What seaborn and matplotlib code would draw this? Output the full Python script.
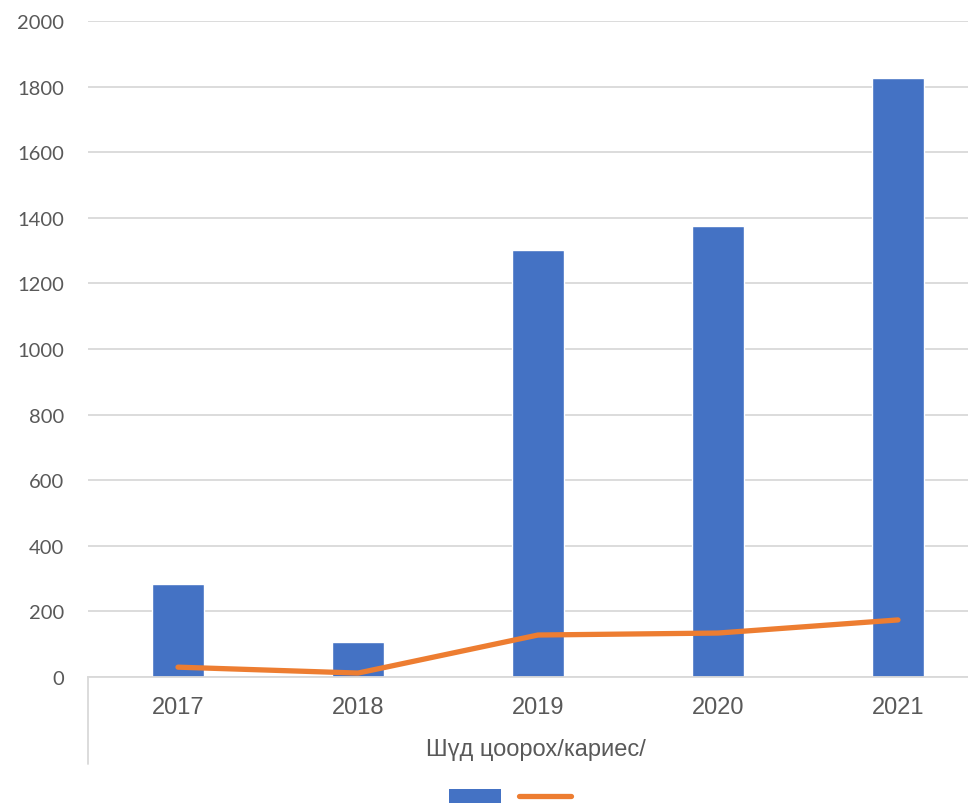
import numpy as np
import matplotlib
matplotlib.use("Agg")
import matplotlib.pyplot as plt
import seaborn as sns
from matplotlib.patches import Patch
from matplotlib.lines import Line2D

# values
years = ["2017", "2018", "2019", "2020", "2021"]
bar_values = [283, 106, 1301, 1375, 1826]
line_values = [30, 12, 128, 134, 174]
group_label = "Шүд цоорох/кариес/"
y_ticks = list(range(0, 2001, 200))

sns.set_theme(style="white")
plt.rcParams["font.family"] = ["Liberation Sans", "DejaVu Sans"]

text_color = "#595959"
bar_color = "#4472C4"
line_color = "#ED7D31"
grid_color = "#D9D9D9"

fig = plt.figure(figsize=(9.68, 8.04), dpi=100)
ax = fig.add_axes([88 / 968, 126 / 804, 900 / 968, 656 / 804])

sns.barplot(x=years, y=bar_values, color=bar_color, width=0.29,
            saturation=1, ax=ax, zorder=2)
sns.lineplot(x=np.arange(len(years)), y=line_values, color=line_color,
             linewidth=3.8, ax=ax, zorder=3, solid_capstyle="round")

ax.set_xlim(-0.5, 4.5)
ax.set_ylim(0, 2000)
ax.set_yticks(y_ticks)
ax.set_yticklabels([str(v) for v in y_ticks], family=["Lato", "DejaVu Sans"],
                   fontsize=14.5, color=text_color)
ax.set_xticks(range(len(years)))
ax.set_xticklabels(years, fontsize=17, color=text_color)
ax.tick_params(axis="y", length=0, pad=17)
ax.tick_params(axis="x", length=0, pad=14)
ax.yaxis.grid(True, color=grid_color, linewidth=1.3, zorder=0)
ax.set_axisbelow(True)
ax.set_xlabel("")
ax.set_ylabel("")

for side in ["top", "right", "left"]:
    ax.spines[side].set_visible(False)
ax.spines["bottom"].set_color(grid_color)
ax.spines["bottom"].set_linewidth(1.3)

# category group separator under the axis
ax.plot([0, 0], [0, -(765 - 678) / 656], transform=ax.transAxes,
        color=grid_color, linewidth=1.3, clip_on=False)
fig.text(536 / 968, 1 - 750 / 804, group_label, ha="center", va="center",
         fontsize=17, color=text_color)

handles = [Patch(facecolor=bar_color, edgecolor="none"),
           Line2D([0], [0], color=line_color, linewidth=3.8)]
fig.legend(handles, ["", ""], loc="center", bbox_to_anchor=(510 / 968, 1 - 799 / 804),
           ncol=2, frameon=False, fontsize=14, handlelength=2.7, handleheight=0.8,
           handletextpad=0, columnspacing=0.9)

fig.savefig("out.png", dpi=100)
